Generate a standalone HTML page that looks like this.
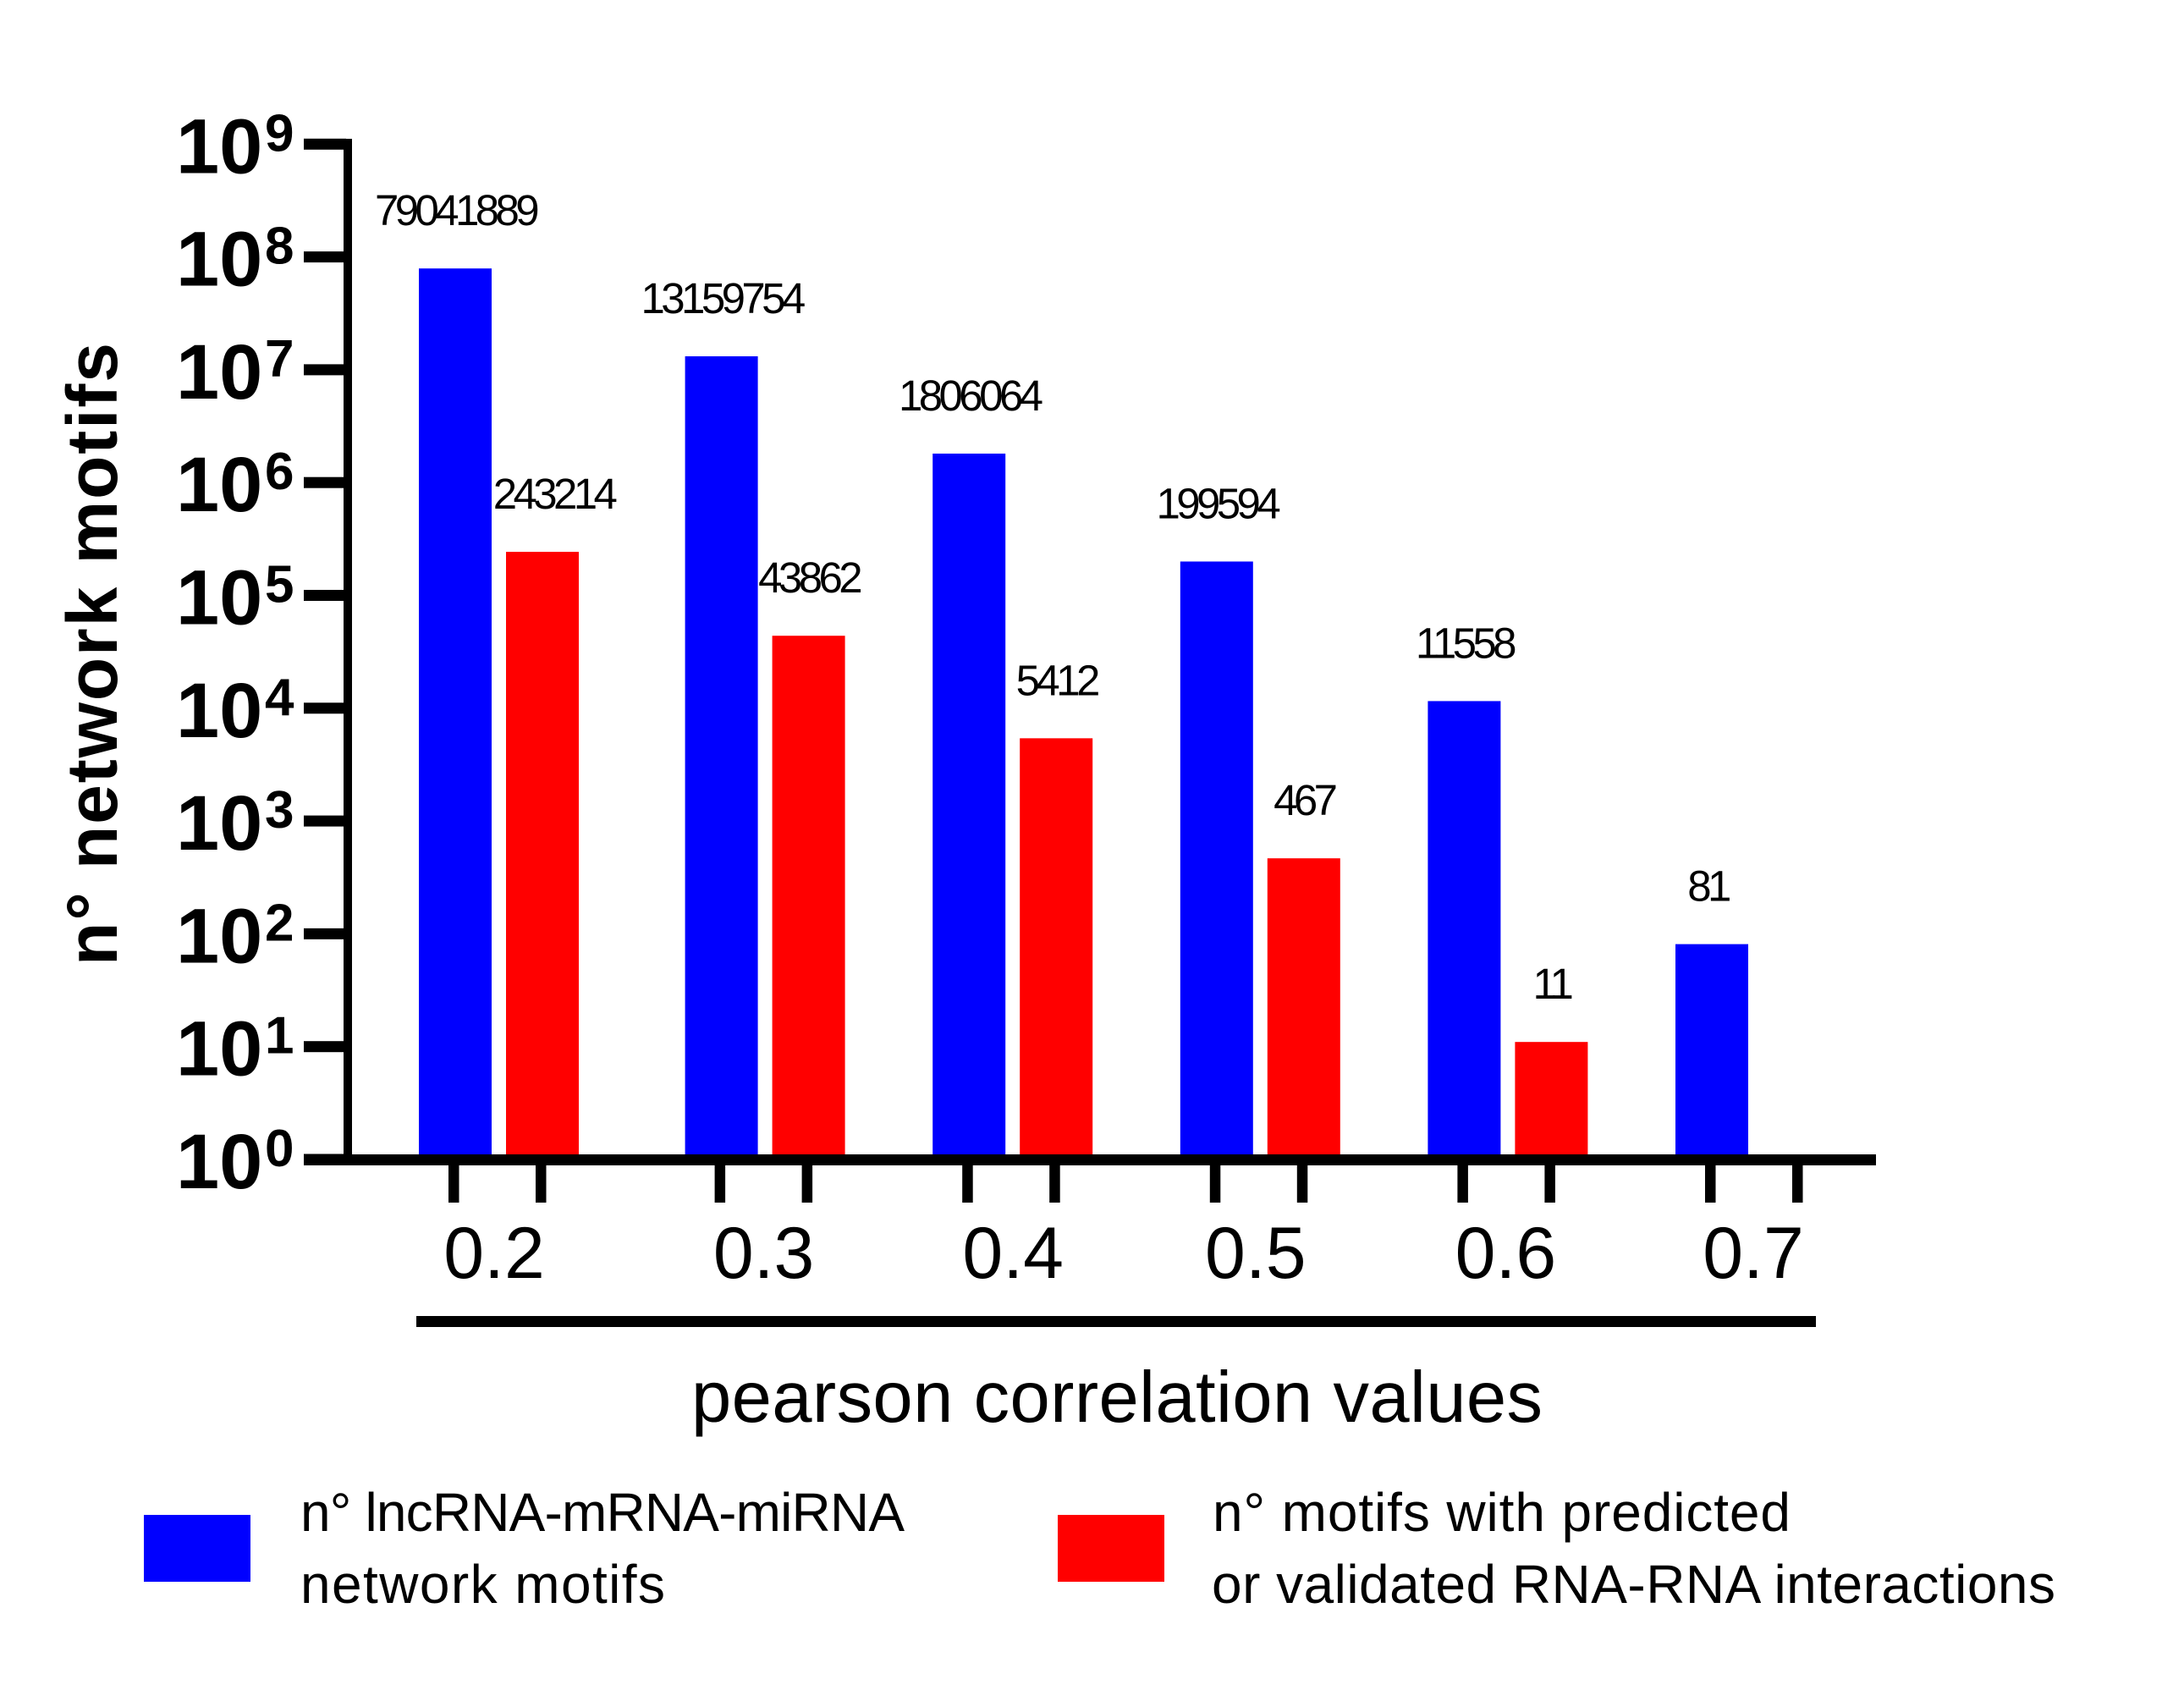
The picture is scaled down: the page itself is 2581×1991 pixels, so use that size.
<!DOCTYPE html>
<html lang="en">
<head>
<meta charset="utf-8">
<title>Network motifs by pearson correlation value</title>
<style>
  html, body { margin: 0; padding: 0; background: #ffffff; }
  svg { display: block; }
  text { font-family: "Liberation Sans", sans-serif; fill: #000000; }
</style>
</head>
<body>
<svg id="chart" xmlns="http://www.w3.org/2000/svg" width="2581" height="1991" viewBox="0 0 2581 1991">
  <rect x="0" y="0" width="2581" height="1991" fill="#ffffff"/>
  <g id="y-ticks"></g>
  <g id="bars"></g>
  <g id="x-ticks"></g>
  <rect x="406" y="164" width="10" height="1213" fill="#000"/>
  <rect x="359" y="1364" width="1858" height="13" fill="#000"/>
  <g id="labels"></g>
  <g id="categories"></g>
  <rect x="492" y="1555" width="1654" height="13" fill="#000"/>
  <text x="817" y="1680" font-size="85" textLength="1006" lengthAdjust="spacing">pearson correlation values</text>
  <text transform="translate(138,1141) rotate(-90)" font-size="84" font-weight="700" textLength="736" lengthAdjust="spacing">n° network motifs</text>

  <g>
    <rect x="170" y="1790" width="126" height="79" fill="#0000ff"/>
    <text x="355" y="1809" font-size="64" textLength="714" lengthAdjust="spacing">n° lncRNA-mRNA-miRNA</text>
    <text x="355" y="1894" font-size="64" textLength="431" lengthAdjust="spacing">network motifs</text>
  </g>
  <g>
    <rect x="1250" y="1790" width="126" height="79" fill="#ff0000"/>
    <text x="1433" y="1809" font-size="64" textLength="683" lengthAdjust="spacing">n° motifs with predicted</text>
    <text x="1432" y="1894" font-size="64" textLength="997" lengthAdjust="spacing">or validated RNA-RNA interactions</text>
  </g>
</svg>
<script>
const categories = ["0.2", "0.3", "0.4", "0.5", "0.6", "0.7"];
const motifCounts = [79041889, 13159754, 1806064, 199594, 11558, 81];
const validatedCounts = [243214, 43862, 5412, 467, 11, null];
const yExponents = [0, 1, 2, 3, 4, 5, 6, 7, 8, 9];

const SVG_NS = "http://www.w3.org/2000/svg";

function yScale(value) {
  return 1370 - 133.3 * Math.log10(value);
}
function groupLeft(index) {
  return 495 + 292.6 * index + (index > 0 ? 22 : 0);
}
function make(tag, parentId, attrs, content) {
  const el = document.createElementNS(SVG_NS, tag);
  Object.keys(attrs).forEach(function (key) { el.setAttribute(key, attrs[key]); });
  if (content !== undefined) { el.textContent = content; }
  document.getElementById(parentId).appendChild(el);
  return el;
}

yExponents.forEach(function (exp) {
  const y = yScale(Math.pow(10, exp));
  const tick = make("rect", "y-ticks", { x: 359, y: y - 6.5, width: 50, height: 13, fill: "#000" });
  
  
  const base = make("text", "y-ticks", { x: 208, y: y + 34, "font-size": 92, "font-weight": 700 }, "10");
  
  
  const power = make("text", "y-ticks", { x: 313, y: y + 8, "font-size": 62, "font-weight": 700 }, String(exp));
  
  
});

function drawSeries(values, offset, color, seriesKey) {
  values.forEach(function (value, i) {
    const left = groupLeft(i) + offset;
    const tick = make("rect", "x-ticks", { x: left + 35, y: 1377, width: 12.5, height: 44, fill: "#000" });
    
    
    if (value === null) { return; }
    const top = yScale(value);
    const bar = make("rect", "bars", { x: left, y: top, width: 86, height: 1365 - top, fill: color });
    
    
    const shift = (seriesKey === "validated" && i === 0) ? 13 : (i === 5 ? -5 : 0);
    const label = make("text", "labels", {
      x: left + 43 + shift,
      y: top - 51,
      "font-size": 51,
      "text-anchor": "middle",
      "letter-spacing": -4.6
    }, String(value));
    
    
  });
}
drawSeries(motifCounts, 0, "#0000ff", "motifs");
drawSeries(validatedCounts, 103, "#ff0000", "validated");

categories.forEach(function (cat, i) {
  const nudge = i === 1 ? 4 : (i === 2 ? 6 : (i >= 4 ? 3 : 0));
  const label = make("text", "categories", {
    x: groupLeft(i) + 89 + nudge,
    y: 1510,
    "font-size": 86,
    "text-anchor": "middle"
  }, cat);
  
  
});
</script>
</body>
</html>
